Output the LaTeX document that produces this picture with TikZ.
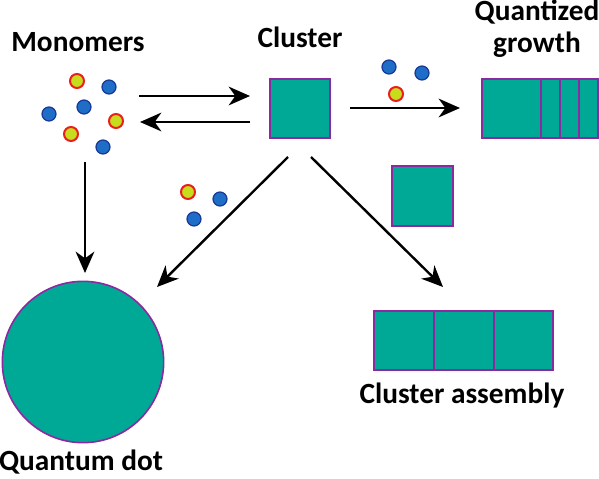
\documentclass[tikz,border=0pt]{standalone}
\usepackage{fontspec}
\setmainfont{Carlito}
\usetikzlibrary{arrows.meta}
\definecolor{teal1}{RGB}{0,168,150}
\definecolor{purp}{RGB}{140,40,160}
\definecolor{bluef}{RGB}{30,110,200}
\definecolor{blueb}{RGB}{25,55,150}
\definecolor{yelf}{RGB}{200,220,30}
\definecolor{redb}{RGB}{235,30,30}
\tikzset{
  box/.style={draw=purp, fill=teal1, line width=1.2pt},
  bdot/.style={circle, draw=blueb, fill=bluef, line width=0.9pt, minimum size=10.5pt, inner sep=0pt},
  ydot/.style={circle, draw=redb, fill=yelf, line width=1.5pt, minimum size=10.5pt, inner sep=0pt},
  lbl/.style={font=\bfseries\fontsize{22}{24}\selectfont, inner sep=0pt, anchor=base},
  arr/.style={line width=1.8pt, -{Stealth[length=16pt, width=14pt, inset=5pt]}},
}
\begin{document}
\begin{tikzpicture}[x=0.75pt, y=-0.75pt]
\useasboundingbox (0,0) rectangle (599,478);
% labels
\node[lbl] (lmono) at (78,52) {Monomers};
\node[lbl] (lclus) at (300,48) {Cluster};
\node[lbl] (lquant) at (537,21) {Quantized};
\node[lbl] (lgrow) at (537,53) {growth};
\node[lbl] (lqd) at (81,470) {Quantum dot};
\node[lbl] (lca) at (462,403) {Cluster assembly};
% monomers
\node[ydot] (m1) at (77,81) {};
\node[bdot] (m2) at (109,87) {};
\node[bdot] (m3) at (84,107) {};
\node[bdot] (m4) at (49,114) {};
\node[ydot] (m5) at (116,121) {};
\node[ydot] (m6) at (71,134) {};
\node[bdot] (m7) at (103,147) {};
% cluster
\draw[box] (270,79) rectangle (330,138);
\coordinate (clusW1) at (250,96);
\coordinate (clusW2) at (250,122);
% quantized growth
\draw[box] (482,79) rectangle (598,138);
\draw[purp, line width=1.2pt] (541,79) -- (541,138) (560,79) -- (560,138) (579,79) -- (579,138);
% dots above right arrow
\node[bdot] (g1) at (389,67) {};
\node[bdot] (g2) at (422,73) {};
\node[ydot] (g3) at (396,94) {};
% small square
\draw[box] (392,166) rectangle (453,226);
% dots near left diagonal
\node[ydot] (d1) at (188,192) {};
\node[bdot] (d2) at (220,199) {};
\node[bdot] (d3) at (194,219) {};
% quantum dot
\node[circle, draw=purp, fill=teal1, line width=1.2pt, minimum size=121pt, inner sep=0pt] (qd) at (83,362) {};
% cluster assembly
\draw[box] (374,311) rectangle (553,370);
\draw[purp, line width=1.2pt] (434,311) -- (434,370) (494,311) -- (494,370);
% arrows
\coordinate (a1s) at (139,96);
\coordinate (a2e) at (140,122);
\draw[arr] (a1s) -- (clusW1);
\draw[arr] (clusW2) -- (a2e);
\coordinate (a3s) at (350,108);
\coordinate (a3e) at (460,108);
\draw[arr] (a3s) -- (a3e);
\coordinate (a4s) at (85,162);
\coordinate (a4e) at (85,273);
\draw[arr] (a4s) -- (a4e);
\coordinate (a5s) at (288,157);
\coordinate (a5e) at (157,287);
\draw[arr] (a5s) -- (a5e);
\coordinate (a6s) at (311,157);
\coordinate (a6e) at (443,287);
\draw[arr] (a6s) -- (a6e);
\end{tikzpicture}
\end{document}
